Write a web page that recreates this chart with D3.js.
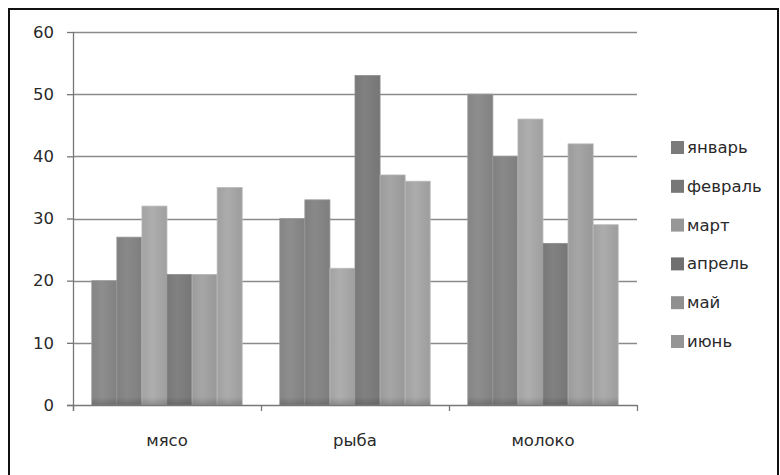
<!DOCTYPE html>
<html>
<head>
<meta charset="utf-8">
<script src="https://cdn.jsdelivr.net/npm/d3@7"></script>
<style>
  html, body { margin: 0; padding: 0; background: #fff; }
  svg { display: block; }
  text { font-family: "DejaVu Sans", sans-serif; fill: #2a2a2a; }
</style>
</head>
<body>
<svg id="chart" width="780" height="475"></svg>
<script>
// Products (categories along the x axis)
const categories = ["мясо", "рыба", "молоко"];
// Months (one bar series each)
const months = ["январь", "февраль", "март", "апрель", "май", "июнь"];
// Values per month, in category order
const january  = [20, 30, 50];
const february = [27, 33, 40];
const march    = [32, 22, 46];
const april    = [21, 53, 26];
const may      = [21, 37, 42];
const june     = [35, 36, 29];
const yTicks   = [0, 10, 20, 30, 40, 50, 60];

const seriesValues = [january, february, march, april, may, june];
const shades = ["#8b8b8b", "#878787", "#ababab", "#7f7f7f", "#a3a3a3", "#a9a9a9"];

const svg = d3.select("#chart");
const margin = { left: 73, top: 32 };
const plotW = 637 - margin.left;
const plotH = 405 - margin.top;
const FONT = 16.5;

// Frame around the chart area
svg.append("path")
  .attr("d", "M9,480 V9 H778 V480")
  .attr("fill", "none").attr("stroke", "#111").attr("stroke-width", 2);

const defs = svg.append("defs");
shades.forEach((c, i) => {
  const base = d3.color(c);
  const g = defs.append("linearGradient").attr("id", "gh" + i)
    .attr("x1", 0).attr("x2", 1).attr("y1", 0).attr("y2", 0);
  g.append("stop").attr("offset", "0%").attr("stop-color", base.darker(0.15));
  g.append("stop").attr("offset", "40%").attr("stop-color", base.brighter(0.05));
  g.append("stop").attr("offset", "100%").attr("stop-color", base.darker(0.2));
});

const g = svg.append("g").attr("transform", `translate(${margin.left},${margin.top})`);

const x0 = d3.scaleBand().domain(categories).range([0, plotW]).paddingInner(0).paddingOuter(0);
const x1 = d3.scaleBand().domain(months).range([0, x0.bandwidth()])
  .paddingInner(0).paddingOuter(0.75);
const y = d3.scaleLinear().domain([0, 60]).range([plotH, 0]);

// Horizontal gridlines
g.append("g").selectAll("line").data(yTicks.filter(t => t > 0)).join("line")
  .attr("x1", 0).attr("x2", plotW)
  .attr("y1", d => Math.round(y(d)) + 0.5).attr("y2", d => Math.round(y(d)) + 0.5)
  .attr("stroke", "#8a8a8a").attr("stroke-width", 1.3);

// Bars
const barData = (c, ci) => months.map((m, mi) => ({ m, mi, v: seriesValues[mi][ci] }));
const catG = g.append("g").selectAll("g").data(categories).join("g")
  .attr("transform", d => `translate(${x0(d)},0)`);

catG.selectAll("rect.bar").data(barData).join("rect").attr("class", "bar")
  .attr("x", d => x1(d.m))
  .attr("width", x1.bandwidth())
  .attr("y", d => y(d.v))
  .attr("height", d => y(0) - y(d.v))
  .attr("fill", d => `url(#gh${d.mi})`)
  .attr("stroke", d => d3.color(shades[d.mi]).brighter(0.3))
  .attr("stroke-width", 0.8);

// Darker base shading at the foot of the bars
const foot = defs.append("linearGradient").attr("id", "foot")
  .attr("x1", 0).attr("x2", 0).attr("y1", 0).attr("y2", 1);
foot.append("stop").attr("offset", "0%").attr("stop-color", "#000").attr("stop-opacity", 0);
foot.append("stop").attr("offset", "100%").attr("stop-color", "#000").attr("stop-opacity", 0.18);
catG.selectAll("rect.foot").data(barData).join("rect").attr("class", "foot")
  .attr("x", d => x1(d.m)).attr("width", x1.bandwidth())
  .attr("y", plotH - 8).attr("height", 8)
  .attr("fill", "url(#foot)");

// Y axis
const yAxis = g.append("g").call(d3.axisLeft(y).tickValues(yTicks).tickSize(6).tickPadding(13));
yAxis.select(".domain").attr("stroke", "#777").attr("stroke-width", 1.3).attr("d", `M0.5,${plotH + 6}V0`);
yAxis.selectAll(".tick line").attr("stroke", "#777").attr("stroke-width", 1.3);
yAxis.selectAll("text").attr("font-size", FONT).attr("fill", "#2a2a2a")
  .style("font-family", "'DejaVu Sans', sans-serif");

// X axis
const xAxis = g.append("g").attr("transform", `translate(0,${plotH})`);
xAxis.append("line").attr("x1", -6).attr("x2", plotW)
  .attr("y1", 0.5).attr("y2", 0.5).attr("stroke", "#777").attr("stroke-width", 1.3);
const bounds = categories.map(c => x0(c)).concat([plotW]);
xAxis.selectAll("line.tk").data(bounds).join("line").attr("class", "tk")
  .attr("x1", d => d + 0.5).attr("x2", d => d + 0.5)
  .attr("y1", 0).attr("y2", 6).attr("stroke", "#777").attr("stroke-width", 1.3);
xAxis.selectAll("text").data(categories).join("text")
  .attr("x", d => x0(d) + x0.bandwidth() / 2)
  .attr("y", 41)
  .attr("text-anchor", "middle")
  .attr("font-size", FONT)
  .text(d => d);

// Legend
const legend = svg.append("g").attr("transform", "translate(671,147)");
const li = legend.selectAll("g").data(months).join("g")
  .attr("transform", (d, i) => `translate(0,${i * 38.8})`);
li.append("rect").attr("x", 0).attr("y", -6).attr("width", 13).attr("height", 13)
  .attr("fill", (d, i) => d3.color(shades[i]).darker(0.35));
li.append("text").attr("x", 16).attr("y", 6).attr("font-size", FONT).text(d => d);
</script>
</body>
</html>
